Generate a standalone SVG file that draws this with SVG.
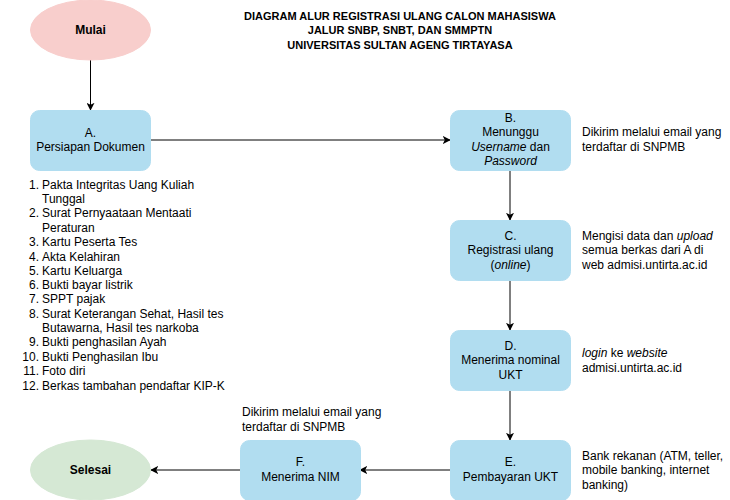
<svg xmlns="http://www.w3.org/2000/svg" width="730" height="500" viewBox="0 0 730 500">
<defs>
<marker id="arr" viewBox="0 0 10 10" refX="9" refY="5" markerWidth="8" markerHeight="8" markerUnits="userSpaceOnUse" orient="auto">
<path d="M0,0 L10,5 L0,10 L2.5,5 Z" fill="#000"/>
</marker>
</defs>
<style>
text{font-family:"Liberation Sans",Arial,sans-serif;font-size:12px;fill:#000}
.c{text-anchor:middle}
.b{font-weight:bold}
.e{text-anchor:end}
.box{fill:#b1ddf0;stroke:#b1ddf0}
.con{stroke:#000;stroke-width:1;fill:none;marker-end:url(#arr)}
.t{font-size:11px;font-weight:bold;text-anchor:middle}
</style>
<rect width="730" height="500" fill="#fff"/>
<g id="title">
<text class="t" x="400" y="20">DIAGRAM ALUR REGISTRASI ULANG CALON MAHASISWA</text>
<text class="t" x="400" y="34">JALUR SNBP, SNBT, DAN SMMPTN</text>
<text class="t" x="400" y="49">UNIVERSITAS SULTAN AGENG TIRTAYASA</text>
</g>
<g id="connectors">
<line class="con" x1="90.5" y1="60" x2="90.5" y2="110"/>
<line class="con" x1="150" y1="140" x2="450" y2="140"/>
<line class="con" x1="510" y1="170" x2="510" y2="220"/>
<line class="con" x1="510" y1="280" x2="510" y2="330"/>
<line class="con" x1="510" y1="390" x2="510" y2="440"/>
<line class="con" x1="450" y1="470" x2="360" y2="470"/>
<line class="con" x1="240" y1="470" x2="151" y2="470"/>
</g>
<g id="mulai">
<ellipse cx="90.5" cy="30" rx="60" ry="30" fill="#f8cecc" stroke="#f8cecc"/>
<text class="c b" x="90.5" y="34">Mulai</text>
</g>
<g id="nodeA">
<rect class="box" x="30.5" y="110.5" width="120" height="60" rx="9"/>
<text class="c" x="90.5" y="137">A.</text>
<text class="c" x="90.5" y="151">Persiapan Dokumen</text>
</g>
<g id="listA">
<text class="e" x="39" y="189">1.</text><text x="42" y="189">Pakta Integritas Uang Kuliah</text>
<text x="42" y="203">Tunggal</text>
<text class="e" x="39" y="217">2.</text><text x="42" y="217">Surat Pernyaataan Mentaati</text>
<text x="42" y="232">Peraturan</text>
<text class="e" x="39" y="246">3.</text><text x="42" y="246">Kartu Peserta Tes</text>
<text class="e" x="39" y="261">4.</text><text x="42" y="261">Akta Kelahiran</text>
<text class="e" x="39" y="275">5.</text><text x="42" y="275">Kartu Keluarga</text>
<text class="e" x="39" y="289">6.</text><text x="42" y="289">Bukti bayar listrik</text>
<text class="e" x="39" y="303">7.</text><text x="42" y="303">SPPT pajak</text>
<text class="e" x="39" y="318">8.</text><text x="42" y="318">Surat Keterangan Sehat, Hasil tes</text>
<text x="42" y="332">Butawarna, Hasil tes narkoba</text>
<text class="e" x="39" y="346">9.</text><text x="42" y="346">Bukti penghasilan Ayah</text>
<text class="e" x="39" y="361">10.</text><text x="42" y="361">Bukti Penghasilan Ibu</text>
<text class="e" x="39" y="375">11.</text><text x="42" y="375">Foto diri</text>
<text class="e" x="39" y="390">12.</text><text x="42" y="390">Berkas tambahan pendaftar KIP-K</text>
</g>
<g id="nodeB">
<rect class="box" x="450.5" y="110.5" width="120" height="60" rx="9"/>
<text class="c" x="510.5" y="122">B.</text>
<text class="c" x="510.5" y="136">Menunggu</text>
<text class="c" x="510.5" y="151"><tspan font-style="italic">Username</tspan> dan</text>
<text class="c" x="510.5" y="165" font-style="italic">Password</text>
</g>
<g id="noteB">
<text x="582" y="136">Dikirim melalui email yang</text>
<text x="582" y="151">terdaftar di SNPMB</text>
</g>
<g id="nodeC">
<rect class="box" x="450.5" y="220.5" width="120" height="60" rx="9"/>
<text class="c" x="510.5" y="240">C.</text>
<text class="c" x="510.5" y="254">Registrasi ulang</text>
<text class="c" x="510.5" y="269">(<tspan font-style="italic">online</tspan>)</text>
</g>
<g id="noteC">
<text x="582" y="240">Mengisi data dan <tspan font-style="italic">upload</tspan></text>
<text x="582" y="254">semua berkas dari A di</text>
<text x="582" y="269">web admisi.untirta.ac.id</text>
</g>
<g id="nodeD">
<rect class="box" x="450.5" y="330.5" width="120" height="60" rx="9"/>
<text class="c" x="510.5" y="350">D.</text>
<text class="c" x="510.5" y="364">Menerima nominal</text>
<text class="c" x="510.5" y="379">UKT</text>
</g>
<g id="noteD">
<text x="582" y="357"><tspan font-style="italic">login</tspan> ke <tspan font-style="italic">website</tspan></text>
<text x="582" y="372">admisi.untirta.ac.id</text>
</g>
<g id="nodeE">
<rect class="box" x="450.5" y="440.5" width="120" height="60" rx="9"/>
<text class="c" x="510.5" y="466">E.</text>
<text class="c" x="510.5" y="481">Pembayaran UKT</text>
</g>
<g id="noteE">
<text x="582" y="460">Bank rekanan (ATM, teller,</text>
<text x="582" y="474">mobile banking, internet</text>
<text x="582" y="489">banking)</text>
</g>
<g id="nodeF">
<rect class="box" x="240.5" y="440.5" width="120" height="60" rx="9"/>
<text class="c" x="300.5" y="466">F.</text>
<text class="c" x="300.5" y="481">Menerima NIM</text>
</g>
<g id="noteF">
<text x="242" y="416">Dikirim melalui email yang</text>
<text x="242" y="431">terdaftar di SNPMB</text>
</g>
<g id="selesai">
<ellipse cx="90.5" cy="470" rx="60" ry="30" fill="#d5e8d4" stroke="#d5e8d4"/>
<text class="c b" x="90.5" y="474">Selesai</text>
</g>
</svg>
